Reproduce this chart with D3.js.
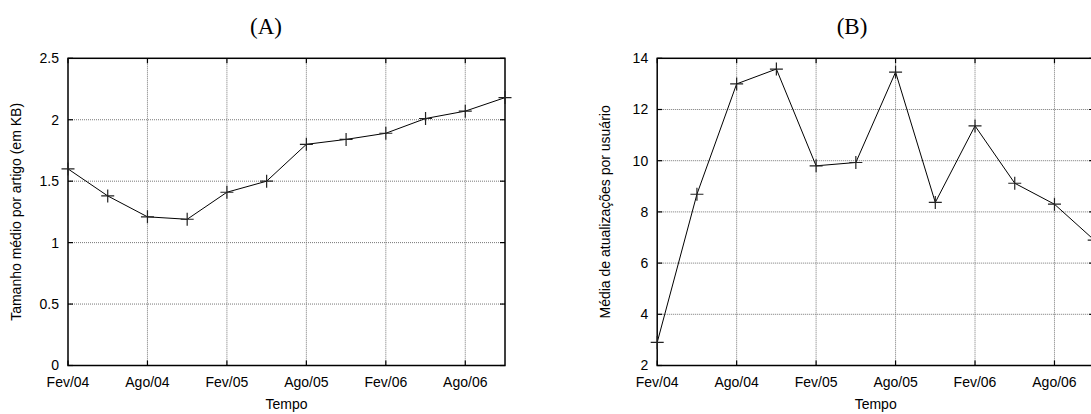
<!DOCTYPE html>
<html>
<head>
<meta charset="utf-8">
<script src="https://cdn.jsdelivr.net/npm/d3@7"></script>
<style>
  body { margin: 0; background: #fff; }
  svg { display: block; }
</style>
</head>
<body>
<div id="chart"></div>
<script>
// quarterly samples, as months after Fev/04
const months = [0, 3, 6, 9, 12, 15, 18, 21, 24, 27, 30, 33];
const sizeKB = [1.60, 1.38, 1.21, 1.19, 1.41, 1.50, 1.80, 1.84, 1.89, 2.01, 2.07, 2.18];
const updates = [2.9, 8.69, 13.0, 13.58, 9.80, 9.93, 13.46, 8.37, 11.36, 9.12, 8.30, 6.9];
const xTickMonths = [0, 6, 12, 18, 24, 30];
const xTickLabels = ["Fev/04", "Ago/04", "Fev/05", "Ago/05", "Fev/06", "Ago/06"];
const yTicksA = [0, 0.5, 1, 1.5, 2, 2.5];
const yTicksB = [2, 4, 6, 8, 10, 12, 14];

const width = 1091, height = 414;

const svg = d3.select("#chart").append("svg")
    .attr("width", width)
    .attr("height", height)
    .attr("font-family", "'Liberation Sans', Arial, sans-serif");

function Panel({
  left, top = 58.3, w = 437, h = 307.2,
  values, yDomain, yTicks, yFormat = d => d,
  title, titleX, yLabel, yLabelX
}) {
  const g = svg.append("g");
  const x = d3.scaleLinear().domain([0, 33]).range([left, left + w]);
  const y = d3.scaleLinear().domain(yDomain).range([top + h, top]);

  // grid
  g.append("g").selectAll("line")
    .data(xTickMonths.slice(1))
    .join("line")
      .attr("x1", d => x(d)).attr("x2", d => x(d))
      .attr("y1", top).attr("y2", top + h)
      .attr("stroke", "#777")
      .attr("stroke-width", 1)
      .attr("stroke-dasharray", "1,1");
  g.append("g").selectAll("line")
    .data(yTicks.slice(1, -1))
    .join("line")
      .attr("x1", left).attr("x2", left + w)
      .attr("y1", d => y(d)).attr("y2", d => y(d))
      .attr("stroke", "#777")
      .attr("stroke-width", 1)
      .attr("stroke-dasharray", "1,1");

  // inward tick marks
  const tk = 5;
  const ticks = g.append("g").attr("stroke", "#000").attr("stroke-width", 1.2);
  xTickMonths.forEach(m => {
    ticks.append("line").attr("x1", x(m)).attr("x2", x(m)).attr("y1", top + h).attr("y2", top + h - tk);
    ticks.append("line").attr("x1", x(m)).attr("x2", x(m)).attr("y1", top).attr("y2", top + tk);
  });
  yTicks.forEach(v => {
    ticks.append("line").attr("x1", left).attr("x2", left + tk).attr("y1", y(v)).attr("y2", y(v));
    ticks.append("line").attr("x1", left + w).attr("x2", left + w - tk).attr("y1", y(v)).attr("y2", y(v));
  });

  // frame
  g.append("rect")
      .attr("x", left).attr("y", top)
      .attr("width", w).attr("height", h)
      .attr("fill", "none")
      .attr("stroke", "#000")
      .attr("stroke-width", 1.5);

  // tick labels
  g.append("g")
      .attr("font-size", 14)
      .attr("text-anchor", "middle")
    .selectAll("text")
    .data(xTickMonths)
    .join("text")
      .attr("x", d => x(d))
      .attr("y", top + h + 21)
      .text((d, i) => xTickLabels[i]);
  g.append("g")
      .attr("font-size", 14)
      .attr("text-anchor", "end")
    .selectAll("text")
    .data(yTicks)
    .join("text")
      .attr("x", left - 9)
      .attr("y", d => y(d))
      .attr("dy", "0.35em")
      .text(yFormat);

  // axis titles
  g.append("text")
      .attr("x", left + w / 2)
      .attr("y", top + h + 43)
      .attr("font-size", 14)
      .attr("text-anchor", "middle")
      .text("Tempo");
  g.append("text")
      .attr("transform", `translate(${yLabelX},${top + h / 2}) rotate(-90)`)
      .attr("font-size", 14)
      .attr("text-anchor", "middle")
      .text(yLabel);

  // panel title
  g.append("text")
      .attr("x", titleX)
      .attr("y", 34)
      .attr("font-family", "'Liberation Serif', 'Times New Roman', serif")
      .attr("font-size", 23)
      .attr("text-anchor", "middle")
      .text(title);

  // series
  const pts = months.map((m, i) => [x(m), y(values[i])]);
  g.append("path")
      .attr("d", d3.line()(pts))
      .attr("fill", "none")
      .attr("stroke", "#000")
      .attr("stroke-width", 1);
  const s = 6.5;
  g.append("g")
      .attr("stroke", "#222")
      .attr("stroke-width", 1.2)
    .selectAll("path")
    .data(pts)
    .join("path")
      .attr("d", ([px, py]) => `M${px - s},${py}H${px + s}M${px},${py - s}V${py + s}`);
}

Panel({
  left: 68, values: sizeKB, yDomain: [0, 2.5], yTicks: yTicksA,
  title: "(A)", titleX: 266, yLabel: "Tamanho médio por artigo (em KB)", yLabelX: 21
});
Panel({
  left: 657.2, values: updates, yDomain: [2, 14], yTicks: yTicksB,
  title: "(B)", titleX: 852, yLabel: "Média de atualizações por usuário", yLabelX: 610
});
</script>
</body>
</html>
